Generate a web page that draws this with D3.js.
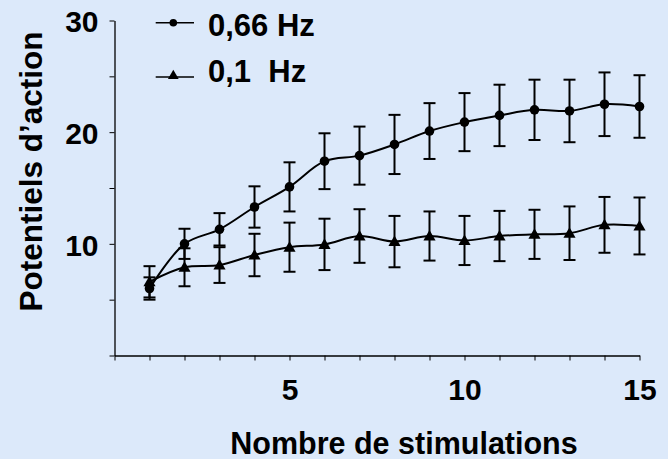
<!DOCTYPE html>
<html><head><meta charset="utf-8">
<script src="https://cdn.jsdelivr.net/npm/d3@7"></script>
<style>
html,body{margin:0;padding:0;background:#dce9fa;}
svg{display:block;}
text{font-family:"Liberation Sans",Arial,sans-serif;font-weight:bold;fill:#000;}
</style></head>
<body>
<svg id="chart" width="668" height="459"></svg>
<script>
const stimulations = [1,2,3,4,5,6,7,8,9,10,11,12,13,14,15];
const hz066 = [6.0,10.0,11.3,13.3,15.1,17.4,17.9,18.9,20.1,20.9,21.5,22.0,21.9,22.5,22.3];
const hz066Err = [1.0,1.35,1.45,1.85,2.2,2.5,2.6,2.65,2.5,2.6,2.75,2.7,2.8,2.85,2.8];
const hz01 = [6.6,7.9,8.1,9.0,9.7,9.95,10.7,10.2,10.7,10.3,10.7,10.85,10.95,11.7,11.6];
const hz01Err = [1.4,1.7,1.6,1.9,2.2,2.3,2.4,2.3,2.2,2.2,2.25,2.2,2.4,2.5,2.55];
const xTickValues = [0,1,2,3,4,5,6,7,8,9,10,11,12,13,14,15];
const xTickLabels = [5,10,15];
const yTickValues = [0,5,10,15,20,25,30];
const yTickLabels = [10,20,30];
const seriesNames = ["0,66 Hz","0,1\u00a0 Hz"];

const svg = d3.select("#chart");
const x = d3.scaleLinear().domain([0,15]).range([114.5,639.5]);
const y = d3.scaleLinear().domain([0,30]).range([355.5,20.5]);

// axes
const xAxis = d3.axisBottom(x).tickValues(xTickValues).tickSize(5).tickSizeOuter(0)
  .tickFormat(d => xTickLabels.includes(d) ? d : "");
const gx = svg.append("g").attr("transform","translate(0,"+y(0)+")").call(xAxis);
gx.select(".domain").attr("stroke","#000").attr("stroke-width",1.3);
gx.selectAll(".tick line").attr("stroke","#000").attr("stroke-width",1);
gx.selectAll(".tick text").attr("font-size",30).attr("y",23).attr("dy","0.71em")
  .style("font-family","'Liberation Sans',Arial,sans-serif").style("font-weight","bold");

const yAxis = d3.axisLeft(y).tickValues(yTickValues).tickSize(5).tickSizeOuter(0)
  .tickFormat(d => yTickLabels.includes(d) ? d : "");
const gy = svg.append("g").attr("transform","translate("+x(0)+",0)").call(yAxis);
gy.select(".domain").attr("stroke","#000").attr("stroke-width",1.3);
gy.selectAll(".tick line").attr("stroke","#000").attr("stroke-width",1);
gy.selectAll(".tick text").attr("font-size",30).attr("x",-16).attr("dy","0.38em")
  .style("font-family","'Liberation Sans',Arial,sans-serif").style("font-weight","bold");

// axis titles
svg.append("text").attr("x",404).attr("y",454).attr("text-anchor","middle")
  .attr("font-size",30.5).text("Nombre de stimulations");
svg.append("text").attr("transform","translate(42,171.5) rotate(-90)").attr("text-anchor","middle")
  .attr("font-size",31.5).text("Potentiels d\u2019action");

const line = d3.line().x((d,i)=>x(stimulations[i])).y(d=>y(d)).curve(d3.curveCatmullRom.alpha(0.5));
const tri = d3.symbol().type(d3.symbolTriangle).size(64);

function drawSeries(vals, errs, marker){
  const g = svg.append("g");
  g.append("path").datum(vals).attr("d",line).attr("fill","none").attr("stroke","#000").attr("stroke-width",2);
  const eb = g.selectAll("g.eb").data(vals).enter().append("g");
  eb.append("line").attr("x1",(d,i)=>x(stimulations[i])).attr("x2",(d,i)=>x(stimulations[i]))
    .attr("y1",(d,i)=>y(d+errs[i])).attr("y2",(d,i)=>y(d-errs[i])).attr("stroke","#000").attr("stroke-width",2);
  [1,-1].forEach(s=>{
    eb.append("line").attr("x1",(d,i)=>x(stimulations[i])-6).attr("x2",(d,i)=>x(stimulations[i])+6)
      .attr("y1",(d,i)=>y(d+s*errs[i])).attr("y2",(d,i)=>y(d+s*errs[i])).attr("stroke","#000").attr("stroke-width",2);
  });
  if(marker==="circle"){
    g.selectAll("circle").data(vals).enter().append("circle")
      .attr("cx",(d,i)=>x(stimulations[i])).attr("cy",d=>y(d)).attr("r",4.8).attr("fill","#000");
  } else {
    g.selectAll("path.m").data(vals).enter().append("path").attr("class","m").attr("d",tri)
      .attr("transform",(d,i)=>"translate("+x(stimulations[i])+","+(y(d)+1)+")").attr("fill","#000");
  }
}
drawSeries(hz01, hz01Err, "triangle");
drawSeries(hz066, hz066Err, "circle");

// legend
const leg = svg.append("g");
const rows = [{name:seriesNames[0],ly:22.7,ty:36,m:"circle"},{name:seriesNames[1],ly:77,ty:82,m:"triangle"}];
rows.forEach(r=>{
  leg.append("line").attr("x1",155.7).attr("x2",194).attr("y1",r.ly).attr("y2",r.ly).attr("stroke","#000").attr("stroke-width",1.6);
  if(r.m==="circle") leg.append("circle").attr("cx",173.3).attr("cy",r.ly).attr("r",3.8).attr("fill","#000");
  else leg.append("path").attr("d",d3.symbol().type(d3.symbolTriangle).size(50)).attr("transform","translate(173.3,"+(r.ly-1)+")").attr("fill","#000");
  leg.append("text").attr("x",208).attr("y",r.ty).attr("font-size",31).text(r.name);
});
</script>
</body></html>
